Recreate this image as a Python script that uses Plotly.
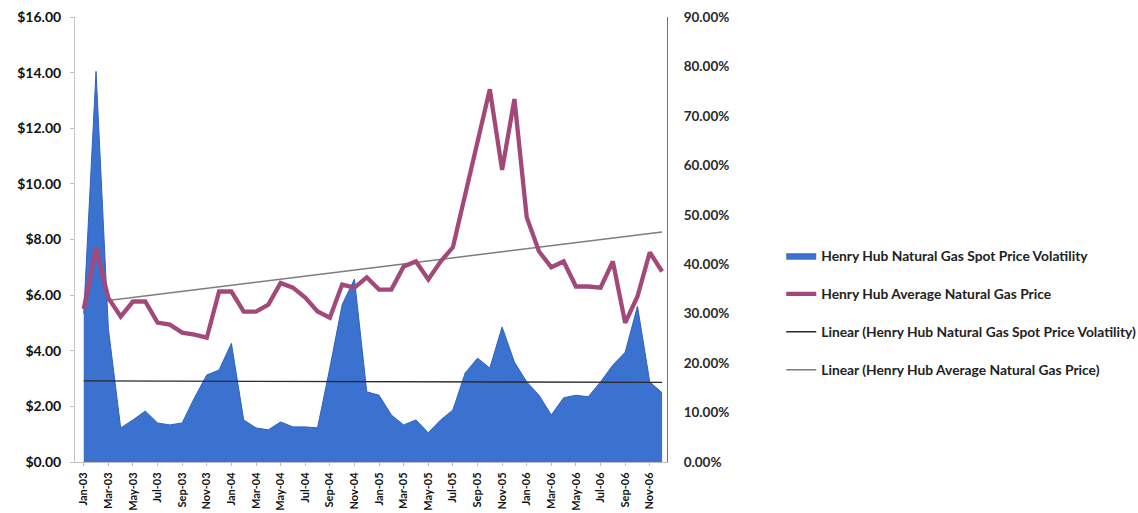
import numpy as np
import plotly.graph_objects as go

# Monthly categories, Jan-03 .. Dec-06
months = [
    "Jan-03", "Feb-03", "Mar-03", "Apr-03", "May-03", "Jun-03",
    "Jul-03", "Aug-03", "Sep-03", "Oct-03", "Nov-03", "Dec-03",
    "Jan-04", "Feb-04", "Mar-04", "Apr-04", "May-04", "Jun-04",
    "Jul-04", "Aug-04", "Sep-04", "Oct-04", "Nov-04", "Dec-04",
    "Jan-05", "Feb-05", "Mar-05", "Apr-05", "May-05", "Jun-05",
    "Jul-05", "Aug-05", "Sep-05", "Oct-05", "Nov-05", "Dec-05",
    "Jan-06", "Feb-06", "Mar-06", "Apr-06", "May-06", "Jun-06",
    "Jul-06", "Aug-06", "Sep-06", "Oct-06", "Nov-06", "Dec-06",
]

# Henry Hub spot price volatility (%), right axis
volatility_pct = [
    30.0, 79.0, 27.0, 6.9, 8.5, 10.3, 7.9, 7.5, 7.9, 13.0, 17.6, 18.6,
    24.0, 8.5, 6.9, 6.5, 8.1, 7.1, 7.1, 6.9, 19.0, 31.8, 37.0, 14.2,
    13.5, 9.5, 7.5, 8.5, 5.9, 8.5, 10.5, 18.0, 21.0, 19.0, 27.3, 20.2,
    16.2, 13.5, 9.5, 13.0, 13.5, 13.2, 16.2, 19.6, 22.2, 31.5, 16.2, 14.0,
]

# Henry Hub average natural gas price ($/MMBtu), left axis
avg_price = [
    5.50, 7.70, 5.90, 5.23, 5.77, 5.77, 5.01, 4.94, 4.65, 4.58, 4.47, 6.13,
    6.13, 5.41, 5.41, 5.66, 6.44, 6.27, 5.91, 5.41, 5.19, 6.38, 6.27, 6.64,
    6.20, 6.20, 7.03, 7.21, 6.56, 7.21, 7.72, 9.60, 11.60, 13.40, 10.50, 13.05,
    8.80, 7.57, 7.00, 7.21, 6.31, 6.31, 6.27, 7.21, 5.00, 5.95, 7.54, 6.85,
]

# Linear trendline values at the first and last month
vol_trend_ends = [16.4, 16.1]      # % (right axis)
price_trend_ends = [5.70, 8.27]    # $ (left axis)

# Axis scales
price_max = 16.0
pct_max = 90.0

idx = np.arange(len(months))
frac = idx / idx[-1]

vol_trend = vol_trend_ends[0] + (vol_trend_ends[1] - vol_trend_ends[0]) * frac
price_trend = price_trend_ends[0] + (price_trend_ends[1] - price_trend_ends[0]) * frac
# price trend expressed on the percentage axis so it sits beneath the area
price_trend_on_pct = price_trend * pct_max / price_max

fig = go.Figure()

fig.add_trace(go.Scatter(
    x=idx, y=price_trend_on_pct, yaxis="y2",
    name="Linear (Henry Hub Average Natural Gas Price)",
    mode="lines", line=dict(color="#7d7d7d", width=1.5),
    legendgroup="d", legendrank=4,
))
fig.add_trace(go.Scatter(
    x=idx, y=volatility_pct, yaxis="y2",
    name="Henry Hub Natural Gas Spot Price Volatility",
    mode="lines", fill="tozeroy",
    fillcolor="#3b72d0", line=dict(color="#2f62bd", width=1),
    legendgroup="a", legendrank=1,
))
fig.add_trace(go.Scatter(
    x=idx, y=vol_trend, yaxis="y2",
    name="Linear (Henry Hub Natural Gas Spot Price Volatility)",
    mode="lines", line=dict(color="#2b2b2b", width=1.3),
    legendgroup="c", legendrank=3,
))
fig.add_trace(go.Scatter(
    x=idx, y=avg_price, yaxis="y",
    name="Henry Hub Average Natural Gas Price",
    mode="lines", line=dict(color="#a3497a", width=4.3),
    legendgroup="b", legendrank=2,
))

fig.update_layout(
    width=1138, height=513,
    margin=dict(l=75, r=471, t=17, b=51, autoexpand=False),
    paper_bgcolor="white", plot_bgcolor="white",
    showlegend=True,
    xaxis=dict(
        range=[-0.71, 47.4], automargin=False,
        tickmode="array", tickvals=idx[::2], ticktext=months[::2],
        tickangle=-90,
        tickfont=dict(family="Lato", size=11, color="#111111", weight="bold"),
        showline=True, linecolor="#bdbdbd", linewidth=1,
        ticks="outside", ticklen=3, tickcolor="#bdbdbd",
        ticklabelstandoff=2,
        showgrid=False, zeroline=False,
    ),
    yaxis=dict(
        range=[0, price_max], dtick=2, tickprefix="$", tickformat=".2f",
        side="left", overlaying="y2", anchor="x", automargin=False,
        showline=True, linecolor="#c4c4c4", linewidth=1,
        ticks="outside", ticklen=4, tickcolor="#c4c4c4",
        ticklabelstandoff=6,
        showgrid=False, zeroline=False,
        tickfont=dict(family="Lato", size=14, color="#111111", weight="bold"),
    ),
    yaxis2=dict(
        range=[0, pct_max], dtick=10, ticksuffix="%", tickformat=".2f",
        side="right", anchor="x", automargin=False,
        showline=True, linecolor="#b0507f", linewidth=1,
        ticks="", ticklabelstandoff=13,
        showgrid=False, zeroline=False,
        tickfont=dict(family="Lato", size=13.5, color="#2a2a2a", weight="bold"),
    ),
    legend=dict(
        x=1.193, y=0.498, xanchor="left", yanchor="top",
        font=dict(family="Lato", size=13.8, color="#222222", weight="bold"),
        traceorder="grouped", tracegroupgap=17, itemwidth=30,
        bgcolor="rgba(0,0,0,0)",
    ),
)

fig.write_html("out.html")
